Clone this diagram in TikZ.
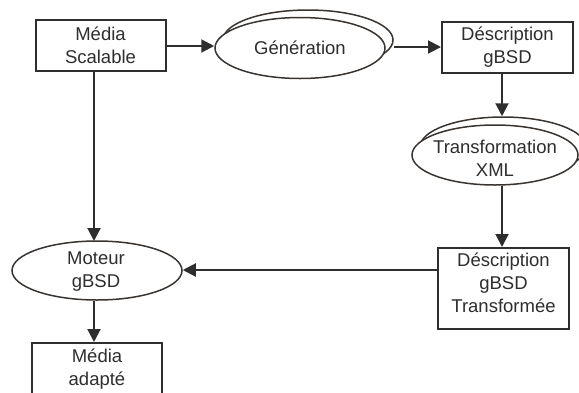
\documentclass[tikz,border=0pt]{standalone}
\usepackage{fontspec}
\setmainfont{Liberation Sans}
\usetikzlibrary{shapes.geometric,arrows.meta}
\definecolor{ink}{HTML}{2E2E2E}
\definecolor{ellink}{HTML}{3A3430}
\tikzset{
  txt/.style={text=ink, align=center, inner sep=0pt, font=\fontsize{18.5}{23}\selectfont},
  boxnode/.style={draw=ink, line width=2pt, fill=white, inner sep=0pt},
  ell/.style={ellipse, draw=ellink, line width=1.5pt, fill=white, inner sep=0pt},
  arr/.style={draw=ink, line width=2pt, -{Triangle[length=13pt,width=13pt]}},
}
\begin{document}
\begin{tikzpicture}[x=1pt,y=-1pt]
\useasboundingbox (0,0) rectangle (579,392);
\clip (0,0) rectangle (579,392);
% boxes
\node[boxnode, minimum width=130, minimum height=51] (ms) at (100.5,45.5) {};
\node[txt] at (100.5,45) {Média\\Scalable};
\node[boxnode, minimum width=131, minimum height=51] (dg) at (507.5,47.5) {};
\node[txt] at (507.5,47.5) {Déscription\\gBSD};
\node[boxnode, minimum width=131, minimum height=81] (dt) at (503.5,288.5) {};
\node[txt] at (503.5,283) {Déscription\\gBSD\\Transformée};
\node[boxnode, minimum width=130, minimum height=70] (ma) at (97,378) {};
\node[txt] at (97,369) {Média\\adapté};
% ellipses
\node[ell, minimum width=170, minimum height=60] (genb) at (308,40) {};
\node[ell, minimum width=170, minimum height=61] (gen) at (300,48) {};
\node[txt] at (300,48) {Génération};
\node[ell, minimum width=166, minimum height=60] (trb) at (503,147) {};
\node[ell, minimum width=166, minimum height=60] (tr) at (495,155) {};
\node[txt] at (495,158.5) {Transformation\\XML};
\node[ell, minimum width=170, minimum height=59] (mo) at (97,270.5) {};
\node[txt] at (96,272) {Moteur\\gBSD};
% connectors
\coordinate (msb) at (94,71);
\coordinate (mot) at (94,241);
\draw[arr] (ms.east |- 0,46) -- (gen.west |- 0,46);
\draw[arr] (genb.east |- 0,47) -- (dg.west |- 0,47);
\draw[arr] (502,73) -- (trb.north -| 502,0);
\draw[arr] (tr.south -| 502,0) -- (dt.north -| 502,0);
\draw[arr] (dt.west |- 0,270) -- (mo.east |- 0,270);
\draw[arr] (msb) -- (mot);
\draw[arr] (mo.south -| 94,0) -- (ma.north -| 94,0);
\end{tikzpicture}
\end{document}
